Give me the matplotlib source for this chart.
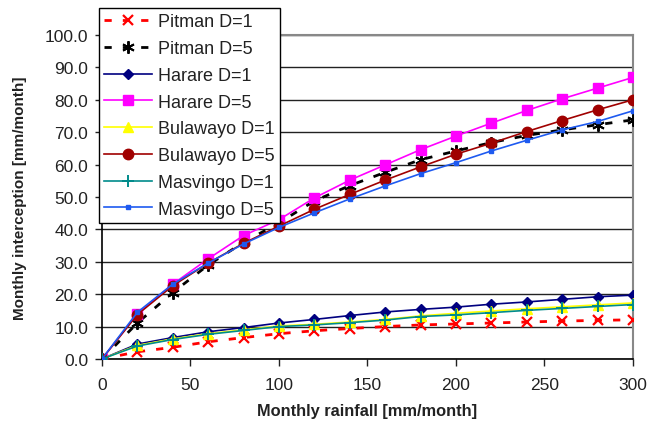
import matplotlib
matplotlib.use("Agg")
import matplotlib.pyplot as plt

plt.rcParams['font.family'] = ['Liberation Sans', 'DejaVu Sans']

rainfall = [0, 20, 40, 60, 80, 100, 120, 140, 160, 180, 200, 220, 240, 260, 280, 300]

pitman_d1 = [0.0, 2.2, 3.6, 5.3, 6.6, 7.8, 8.7, 9.4, 10.0, 10.5, 10.8, 11.1, 11.4, 11.7, 11.9, 12.1]
pitman_d5 = [0.0, 11.1, 20.5, 29.0, 36.0, 42.0, 48.8, 53.5, 57.6, 61.5, 64.2, 66.8, 69.0, 70.7, 72.3, 73.8]
harare_d1 = [0.0, 4.6, 6.6, 8.4, 9.7, 11.1, 12.2, 13.4, 14.5, 15.3, 16.0, 16.9, 17.6, 18.4, 19.2, 19.7]
harare_d5 = [0.0, 13.9, 23.1, 30.9, 38.1, 43.0, 49.7, 55.2, 59.9, 64.6, 68.8, 72.8, 76.7, 80.3, 83.6, 86.9]
bulawayo_d1 = [0.0, 4.2, 6.2, 7.8, 9.0, 10.2, 10.7, 11.4, 12.2, 13.3, 14.1, 14.8, 15.5, 16.1, 16.7, 17.3]
bulawayo_d5 = [0.0, 13.7, 22.6, 29.6, 35.7, 41.0, 46.2, 50.8, 55.2, 59.3, 63.2, 66.6, 70.2, 73.6, 76.9, 80.0]
masvingo_d1 = [0.0, 4.0, 6.0, 7.6, 8.8, 10.0, 10.5, 11.2, 12.0, 13.1, 13.6, 14.3, 15.0, 15.6, 16.2, 16.8]
masvingo_d5 = [0.0, 14.4, 23.1, 29.6, 35.5, 40.6, 45.1, 49.4, 53.4, 57.2, 60.6, 64.2, 67.5, 70.7, 73.3, 76.6]

x_ticks = [0, 50, 100, 150, 200, 250, 300]
y_ticks = [0, 10, 20, 30, 40, 50, 60, 70, 80, 90, 100]

fig = plt.figure(figsize=(6.6, 4.27), dpi=100)
ax = fig.add_axes([0.1545, 0.157, 0.8045, 0.7587])

lw = 1.2
dash = (0, (2.6, 4.0))
ax.plot(rainfall, pitman_d1, color='#FF0000', linestyle=dash, linewidth=2.0,
        marker='x', markersize=7, markeredgewidth=1.6, label='Pitman D=1', zorder=3)
ax.plot(rainfall, pitman_d5, color='#000000', linestyle=dash, linewidth=2.0,
        marker=(6, 2, 0), markersize=9, markeredgewidth=1.4, label='Pitman D=5', zorder=3)
ax.plot(rainfall, harare_d1, color='#000080', linewidth=lw,
        marker='D', markersize=5.5, label='Harare D=1', zorder=3)
ax.plot(rainfall, harare_d5, color='#FF00FF', linewidth=lw,
        marker='s', markersize=7, label='Harare D=5', zorder=3)
ax.plot(rainfall, bulawayo_d1, color='#FFFF00', linewidth=lw,
        marker='^', markersize=7, label='Bulawayo D=1', zorder=3)
ax.plot(rainfall, bulawayo_d5, color='#A00000', linewidth=lw,
        marker='o', markersize=7.5, label='Bulawayo D=5', zorder=3)
ax.plot(rainfall, masvingo_d1, color='#008B8B', linewidth=lw,
        marker='+', markersize=8, markeredgewidth=1.4, label='Masvingo D=1', zorder=3)
ax.plot(rainfall, masvingo_d5, color='#1E5AF0', linewidth=lw,
        marker='s', markersize=2.5, label='Masvingo D=5', zorder=3)

ax.set_xlim(0, 300)
ax.set_ylim(0, 100)
ax.set_xticks(x_ticks)
ax.set_yticks(y_ticks)
ax.set_yticklabels([f'{v:.1f}' for v in y_ticks])
ax.tick_params(axis='both', labelsize=12.5, colors='#222222', length=5, width=1,
               direction='out')
ax.tick_params(axis='x', pad=8)
ax.tick_params(axis='y', pad=5)

ax.yaxis.grid(True, color='#222222', linewidth=1.0)
ax.set_axisbelow(True)

for side in ('left', 'bottom'):
    ax.spines[side].set_color('#000000')
    ax.spines[side].set_linewidth(1.2)
for side in ('top', 'right'):
    ax.spines[side].set_color('#888888')
    ax.spines[side].set_linewidth(1.5)

ax.set_xlabel('Monthly rainfall [mm/month]', fontsize=11.8, fontweight='bold',
              color='#222222', labelpad=8)
ax.set_ylabel('Monthly interception [mm/month]', fontsize=11, fontweight='bold',
              color='#222222', labelpad=13)

leg = fig.legend(loc='upper left', bbox_to_anchor=(99 / 660, 1 - 9 / 427),
                 fontsize=13, frameon=True, fancybox=False, framealpha=1,
                 edgecolor='#000000', borderpad=0.3, labelspacing=0.54,
                 handlelength=2.66, handletextpad=0.28, borderaxespad=0)
leg.get_frame().set_linewidth(1.0)
for t in leg.get_texts():
    t.set_color('#222222')

fig.savefig('out.png', dpi=100)
